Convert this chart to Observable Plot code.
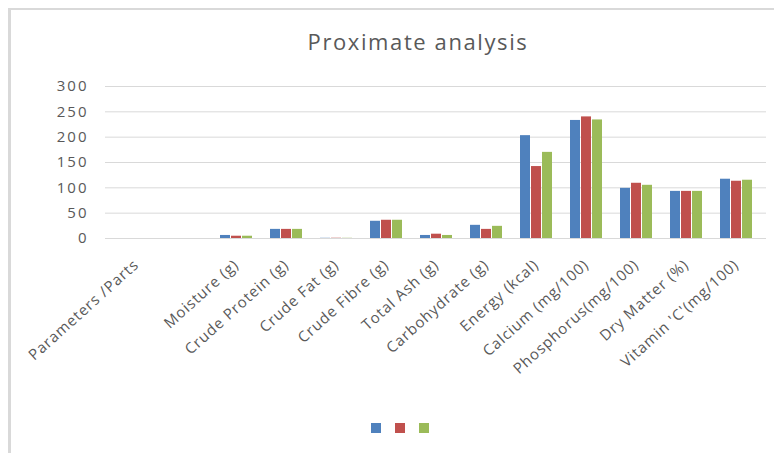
<!DOCTYPE html>
<html>
<head>
<meta charset="utf-8">
<script src="https://cdn.jsdelivr.net/npm/d3@7"></script>
<script src="https://cdn.jsdelivr.net/npm/@observablehq/plot@0.6"></script>
<style>
  html, body { margin: 0; padding: 0; background: #fff; }
  #wrap { position: relative; width: 774px; height: 453px; overflow: hidden; font-family: "Open Sans", sans-serif; }
  #frame { position: absolute; left: 8px; top: 8px; right: -10px; bottom: -10px; border-top: 2px solid #d9d9d9; border-left: 3px solid #d9d9d9; }
  #title { position: absolute; left: 0; width: 836px; top: 26px; text-align: center; font-size: 22px; letter-spacing: 1.6px; color: #595959; }
  #chart { position: absolute; left: 0; top: 0; }
  #legend { position: absolute; top: 423px; left: 371px; display: flex; gap: 14px; }
  #legend span { display: inline-block; width: 10px; height: 10px; }
  [aria-label^="x-axis"] text { font-size: 15px; letter-spacing: 0.9px; }
  [aria-label^="y-axis"] text { font-size: 15px; letter-spacing: 2px; }
</style>
</head>
<body>
<div id="wrap">
  <div id="frame"></div>
  <div id="chart"></div>
  <div id="title">Proximate analysis</div>
  <div id="legend"></div>
</div>
<script>
const categories = ["Parameters /Parts", "", "Moisture (g)", "Crude Protein (g)", "Crude Fat (g)", "Crude Fibre (g)", "Total Ash (g)", "Carbohydrate (g)", "Energy (kcal)", "Calcium (mg/100)", "Phosphorus(mg/100)", "Dry Matter (%)", "Vitamin 'C'(mg/100)"];
const series1 = [null, null, 6, 18, 0.4, 34, 6, 26, 203, 233, 99, 93, 117];
const series2 = [null, null, 4.5, 18, 0.5, 36, 8.5, 18, 142, 240, 109, 93, 113];
const series3 = [null, null, 4.5, 18, 0.4, 36, 6, 24, 170, 234, 105, 93, 115];
const seriesNames = ["Series1", "Series2", "Series3"];
const seriesColors = ["#4f81bd", "#c0504d", "#9bbb59"];
const yTicks = [0, 50, 100, 150, 200, 250, 300];

const allSeries = [series1, series2, series3];
const barW = 10, gap = 1;
const marks = [Plot.ruleY(yTicks, {stroke: "#d9d9d9", strokeWidth: 1})];
allSeries.forEach((vals, k) => {
  const data = categories.map((c, i) => ({cat: c, value: vals[i], s: seriesNames[k]})).filter(d => d.value != null);
  marks.push(Plot.barY(data, {
    x: "cat", y: "value", fill: seriesColors[k],
    insetLeft: k * (barW + gap),
    insetRight: (2 - k) * (barW + gap)
  }));
});

const chart = Plot.plot({
  width: 774,
  height: 453,
  marginLeft: 105,
  marginRight: 8,
  marginTop: 86,
  marginBottom: 215,
  style: {fontFamily: "Open Sans, sans-serif", color: "#595959", background: "transparent"},
  x: {domain: categories, paddingInner: 0.37, paddingOuter: 0.185, tickSize: 0, tickRotate: -42, tickPadding: 24, label: null},
  y: {domain: [0, 300], ticks: yTicks, tickSize: 0, tickPadding: 17, label: null, line: false},
  marks
});
document.getElementById("chart").appendChild(chart);

const leg = document.getElementById("legend");
seriesColors.forEach(c => {
  const s = document.createElement("span");
  s.style.background = c;
  leg.appendChild(s);
});
</script>
</body>
</html>
